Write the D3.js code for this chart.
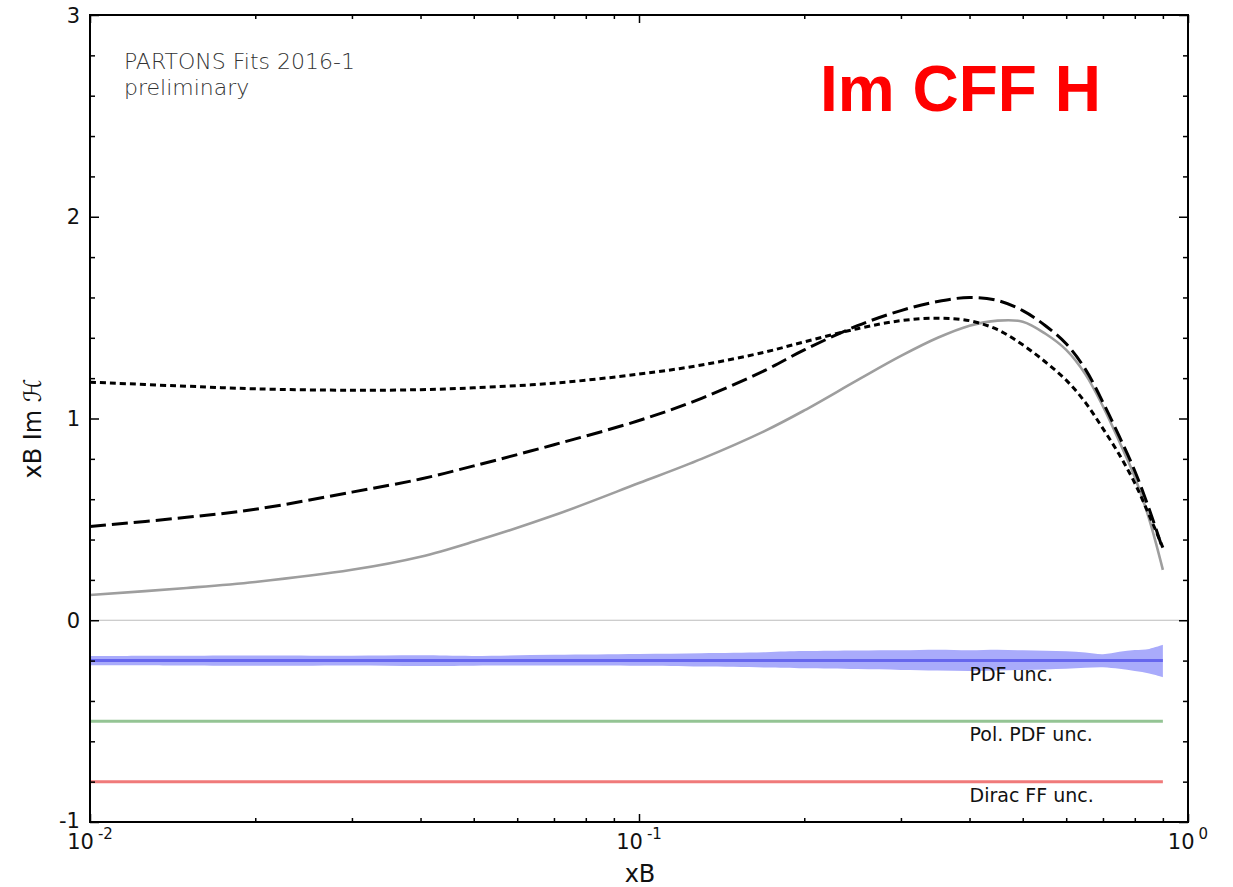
<!DOCTYPE html>
<html>
<head>
<meta charset="utf-8">
<script src="https://cdn.jsdelivr.net/npm/d3@7"></script>
<style>
  html, body { margin: 0; padding: 0; background: #fff; }
  svg { display: block; }
  text { font-family: "DejaVu Sans", sans-serif; }
</style>
</head>
<body>
<svg id="chart" width="1233" height="887"></svg>
<script>
// x_B grid shared by every curve
const xB = [0.01, 0.015, 0.02, 0.03, 0.04, 0.05, 0.07, 0.1, 0.13, 0.17, 0.2, 0.25,
            0.3, 0.35, 0.4, 0.45, 0.5, 0.55, 0.6, 0.65, 0.7, 0.75, 0.8, 0.85, 0.9];

// xB Im H for the three models
const modelSolid  = [0.125, 0.16, 0.19, 0.25, 0.315, 0.39, 0.52, 0.68, 0.80, 0.94, 1.04, 1.19,
                     1.31, 1.40, 1.46, 1.485, 1.48, 1.42, 1.34, 1.22, 1.06, 0.885, 0.71, 0.50, 0.25];
const modelDashed = [0.465, 0.51, 0.55, 0.635, 0.70, 0.765, 0.87, 0.99, 1.10, 1.24, 1.34, 1.46,
                     1.535, 1.58, 1.60, 1.585, 1.535, 1.46, 1.37, 1.245, 1.08, 0.91, 0.74, 0.55, 0.35];
const modelDotted = [1.18, 1.16, 1.147, 1.14, 1.143, 1.152, 1.175, 1.22, 1.265, 1.33, 1.38, 1.445,
                     1.485, 1.497, 1.485, 1.44, 1.365, 1.28, 1.19, 1.08, 0.95, 0.82, 0.68, 0.52, 0.36];

// uncertainty bands (shifted offsets)
const pdfCentre = [-0.2, -0.2, -0.2, -0.2, -0.2, -0.2, -0.2, -0.2, -0.2, -0.2, -0.2, -0.2,
                   -0.2, -0.2, -0.2, -0.2, -0.2, -0.2, -0.2, -0.2, -0.2, -0.2, -0.2, -0.2, -0.2];
const pdfUpper  = [-0.177, -0.176, -0.175, -0.176, -0.174, -0.177, -0.171, -0.167, -0.163, -0.158, -0.153, -0.150,
                   -0.149, -0.146, -0.149, -0.146, -0.149, -0.151, -0.154, -0.160, -0.168, -0.156, -0.148, -0.142, -0.122];
const pdfLower  = [-0.223, -0.224, -0.226, -0.224, -0.227, -0.225, -0.224, -0.225, -0.229, -0.234, -0.238, -0.242,
                   -0.246, -0.249, -0.251, -0.249, -0.246, -0.244, -0.241, -0.236, -0.233, -0.241, -0.252, -0.264, -0.282];
const polPdf    = [-0.5, -0.5, -0.5, -0.5, -0.5, -0.5, -0.5, -0.5, -0.5, -0.5, -0.5, -0.5,
                   -0.5, -0.5, -0.5, -0.5, -0.5, -0.5, -0.5, -0.5, -0.5, -0.5, -0.5, -0.5, -0.5];
const diracFF   = [-0.8, -0.8, -0.8, -0.8, -0.8, -0.8, -0.8, -0.8, -0.8, -0.8, -0.8, -0.8,
                   -0.8, -0.8, -0.8, -0.8, -0.8, -0.8, -0.8, -0.8, -0.8, -0.8, -0.8, -0.8, -0.8];

// band labels: [text, x, y]
const bandLabels = [["PDF unc.", 0.4, -0.3], ["Pol. PDF unc.", 0.4, -0.6], ["Dirac FF unc.", 0.4, -0.9]];

// axis ticks
const xMajor = [0.01, 0.1, 1];
const xMajorExp = ["-2", "-1", "0"];
const xMinor = [0.02, 0.03, 0.04, 0.05, 0.06, 0.07, 0.08, 0.09, 0.2, 0.3, 0.4, 0.5, 0.6, 0.7, 0.8, 0.9];
const yMajor = [-1, 0, 1, 2, 3];
const yMinor = [-0.8, -0.6, -0.4, -0.2, 0.2, 0.4, 0.6, 0.8, 1.2, 1.4, 1.6, 1.8, 2.2, 2.4, 2.6, 2.8];

const svg = d3.select("#chart");
const L = 90, R = 1188, T = 15, B = 822;
const x = d3.scaleLog().domain([0.01, 1]).range([L, R]);
const y = d3.scaleLinear().domain([-1, 3]).range([B, T]);

const pts = vals => xB.map((v, i) => ({ x: v, y: vals[i] }));
const smooth = d3.curveCatmullRom.alpha(0.5);
const line = d3.line().x(d => x(d.x)).y(d => y(d.y)).curve(smooth);

// zero line
svg.append("line").attr("x1", L).attr("x2", R).attr("y1", y(0)).attr("y2", y(0))
  .attr("stroke", "#bdbdbd").attr("stroke-width", 1.2);

// PDF uncertainty band
const area = d3.area().x((d, i) => x(xB[i])).y0(d => y(d[0])).y1(d => y(d[1])).curve(smooth);
svg.append("path").datum(xB.map((v, i) => [pdfLower[i], pdfUpper[i]]))
  .attr("d", area).attr("fill", "#a9abfb");
svg.append("path").datum(pts(pdfCentre)).attr("d", line)
  .attr("fill", "none").attr("stroke", "#6666ee").attr("stroke-width", 3);
svg.append("path").datum(pts(polPdf)).attr("d", line)
  .attr("fill", "none").attr("stroke", "#94c494").attr("stroke-width", 3);
svg.append("path").datum(pts(diracFF)).attr("d", line)
  .attr("fill", "none").attr("stroke", "#f07a7a").attr("stroke-width", 3);

bandLabels.forEach(([t, bx, by]) => {
  svg.append("text").attr("x", x(bx)).attr("y", y(by)).attr("font-size", 19)
    .attr("fill", "#111").text(t);
});

// model curves
svg.append("path").datum(pts(modelSolid)).attr("d", line)
  .attr("fill", "none").attr("stroke", "#9e9e9e").attr("stroke-width", 2.6);
svg.append("path").datum(pts(modelDashed)).attr("d", line)
  .attr("fill", "none").attr("stroke", "#000").attr("stroke-width", 3)
  .attr("stroke-dasharray", "16,6");
svg.append("path").datum(pts(modelDotted)).attr("d", line)
  .attr("fill", "none").attr("stroke", "#000").attr("stroke-width", 3)
  .attr("stroke-dasharray", "6,4");

// axes with inward ticks on all four sides
function addAxis(gen, tr, vals, size) {
  const g = svg.append("g").attr("transform", tr)
    .call(gen.tickValues(vals).tickSize(size).tickFormat(""));
  g.select(".domain").remove();
  g.selectAll(".tick line").attr("stroke", "#000").attr("stroke-width", 1.5);
}
addAxis(d3.axisBottom(x), `translate(0,${B})`, xMajor, -8);
addAxis(d3.axisBottom(x), `translate(0,${B})`, xMinor, -4);
addAxis(d3.axisTop(x), `translate(0,${T})`, xMajor, -8);
addAxis(d3.axisTop(x), `translate(0,${T})`, xMinor, -4);
addAxis(d3.axisLeft(y), `translate(${L},0)`, yMajor, -9);
addAxis(d3.axisLeft(y), `translate(${L},0)`, yMinor, -5);
addAxis(d3.axisRight(y), `translate(${R},0)`, yMajor, -9);
addAxis(d3.axisRight(y), `translate(${R},0)`, yMinor, -5);

svg.append("rect").attr("x", L).attr("y", T).attr("width", R - L).attr("height", B - T)
  .attr("fill", "none").attr("stroke", "#000").attr("stroke-width", 2);

// tick labels
yMajor.forEach(v => {
  svg.append("text").attr("x", L - 10).attr("y", y(v) - (v === -1 ? 2 : 0)).attr("dy", "0.36em")
    .attr("text-anchor", "end").attr("font-size", 21).attr("fill", "#111").text(v);
});
xMajor.forEach((v, i) => {
  const t = svg.append("text").attr("x", x(v)).attr("y", 849)
    .attr("text-anchor", "middle").attr("font-size", 21).attr("fill", "#111");
  t.append("tspan").text("10");
  t.append("tspan").attr("dx", 4).attr("dy", -10).attr("font-size", 15).text(xMajorExp[i]);
});

// axis titles
svg.append("text").attr("x", (L + R) / 2 + 1).attr("y", 882).attr("text-anchor", "middle")
  .attr("font-size", 24).attr("fill", "#111").text("xB");
svg.append("text").attr("transform", `translate(41,${y(1.0) + 10}) rotate(-90)`)
  .attr("text-anchor", "middle").attr("font-size", 24).attr("fill", "#111").text("xB Im ℋ");

// annotations
svg.append("text").attr("x", 124).attr("y", 69).attr("font-size", 22)
  .attr("font-weight", 200).attr("fill", "#333").text("PARTONS Fits 2016-1");
svg.append("text").attr("x", 124).attr("y", 95).attr("font-size", 22)
  .attr("font-weight", 200).attr("fill", "#333").text("preliminary");
svg.append("text").attr("x", 820).attr("y", 111)
  .style("font-family", "'Liberation Sans', Arial, sans-serif")
  .style("font-size", "64px").style("font-weight", "bold")
  .attr("fill", "#ff0000").text("Im CFF H");
</script>
</body>
</html>
